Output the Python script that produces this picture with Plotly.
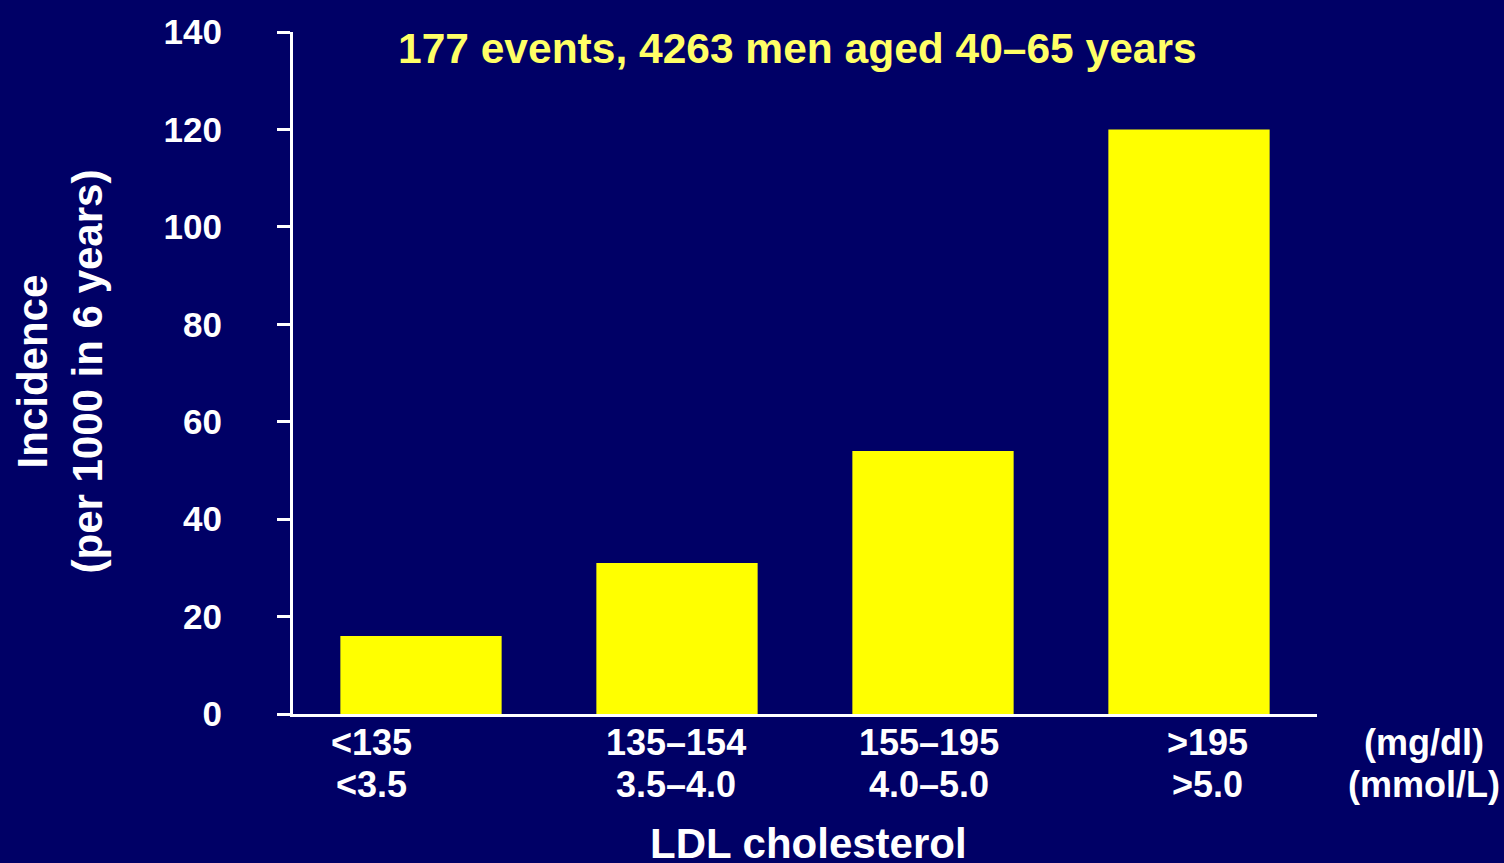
import plotly.graph_objects as go

# ---- data ----
categories = ["<135", "135–154", "155–195", ">195"]
mmol_labels = ["<3.5", "3.5–4.0", "4.0–5.0", ">5.0"]
incidence = [16, 31, 54, 120]
y_ticks = [0, 20, 40, 60, 80, 100, 120, 140]
unit_labels = ["(mg/dl)", "(mmol/L)"]
title_text = "177 events, 4263 men aged 40–65 years"
x_title = "LDL cholesterol"
y_title = ["Incidence", "(per 1000 in 6 years)"]

# ---- style ----
BG = "#000066"
BAR = "#FFFF00"
TITLE_COL = "#FFFF66"
FONT = "Liberation Sans, Arial, sans-serif"
label_shift = [-50, -1, -4, 18]  # pixel offsets of category labels

L, R, T, B = 293, 187, 29, 149
W, H = 1504, 863
PW, PH = W - L - R, H - T - B

fig = go.Figure()
fig.add_trace(go.Bar(x=categories, y=incidence, marker=dict(color=BAR, line=dict(width=0)),
                     width=0.63, hoverinfo="skip"))

def py(px_y):
    return (H - B - px_y) / PH

def pxx(px_x):
    return (px_x - L) / PW

ann = []
for i, (c, m) in enumerate(zip(categories, mmol_labels)):
    ann.append(dict(x=c, xref="x", y=py(743), yref="paper", text=f"<b>{c}</b>", showarrow=False,
                    xshift=label_shift[i], xanchor="center", yanchor="middle",
                    font=dict(family=FONT, size=36, color="white")))
    ann.append(dict(x=c, xref="x", y=py(785), yref="paper", text=f"<b>{m}</b>", showarrow=False,
                    xshift=label_shift[i], xanchor="center", yanchor="middle",
                    font=dict(family=FONT, size=36, color="white")))
for j, u in enumerate(unit_labels):
    ann.append(dict(x=pxx(1424), xref="paper", y=py([743, 785][j]), yref="paper", text=f"<b>{u}</b>",
                    showarrow=False, xanchor="center", yanchor="middle",
                    font=dict(family=FONT, size=36, color="white")))
ann.append(dict(x=pxx(797), xref="paper", y=py(46), yref="paper", text=f"<b>{title_text}</b>",
                showarrow=False, xanchor="center", yanchor="middle",
                font=dict(family=FONT, size=42.5, color=TITLE_COL)))
ann.append(dict(x=pxx(808), xref="paper", y=py(844), yref="paper", text=f"<b>{x_title}</b>",
                showarrow=False, xanchor="center", yanchor="middle",
                font=dict(family=FONT, size=42, color="white")))
ann.append(dict(x=pxx(60), xref="paper", y=py(370), yref="paper",
                text="<b>" + "<br>".join(y_title) + "</b>", textangle=-90,
                showarrow=False, xanchor="center", yanchor="middle",
                font=dict(family=FONT, size=42, color="white")))

fig.update_layout(
    width=W, height=H,
    margin=dict(l=L, r=R, t=T, b=B, pad=0),
    paper_bgcolor=BG, plot_bgcolor=BG,
    showlegend=False,
    bargap=0.37,
    annotations=ann,
    xaxis=dict(type="category", range=[-0.5, 3.5], showticklabels=False, ticks="",
               showline=True, linecolor="white", linewidth=3, showgrid=False, zeroline=False,
               fixedrange=True),
    yaxis=dict(range=[0, 140], tickvals=y_ticks, ticks="outside", ticklen=13, tickwidth=3,
               tickcolor="white", showline=True, linecolor="white", linewidth=3,
               showgrid=False, zeroline=False, ticklabelstandoff=48,
               tickfont=dict(family=FONT, size=35, color="white", weight="bold"),
               fixedrange=True),
)

fig.write_html("out.html", config={"displayModeBar": False},
               post_script="document.body.style.margin='0';document.body.style.overflow='hidden';document.body.style.background='#000066';")
